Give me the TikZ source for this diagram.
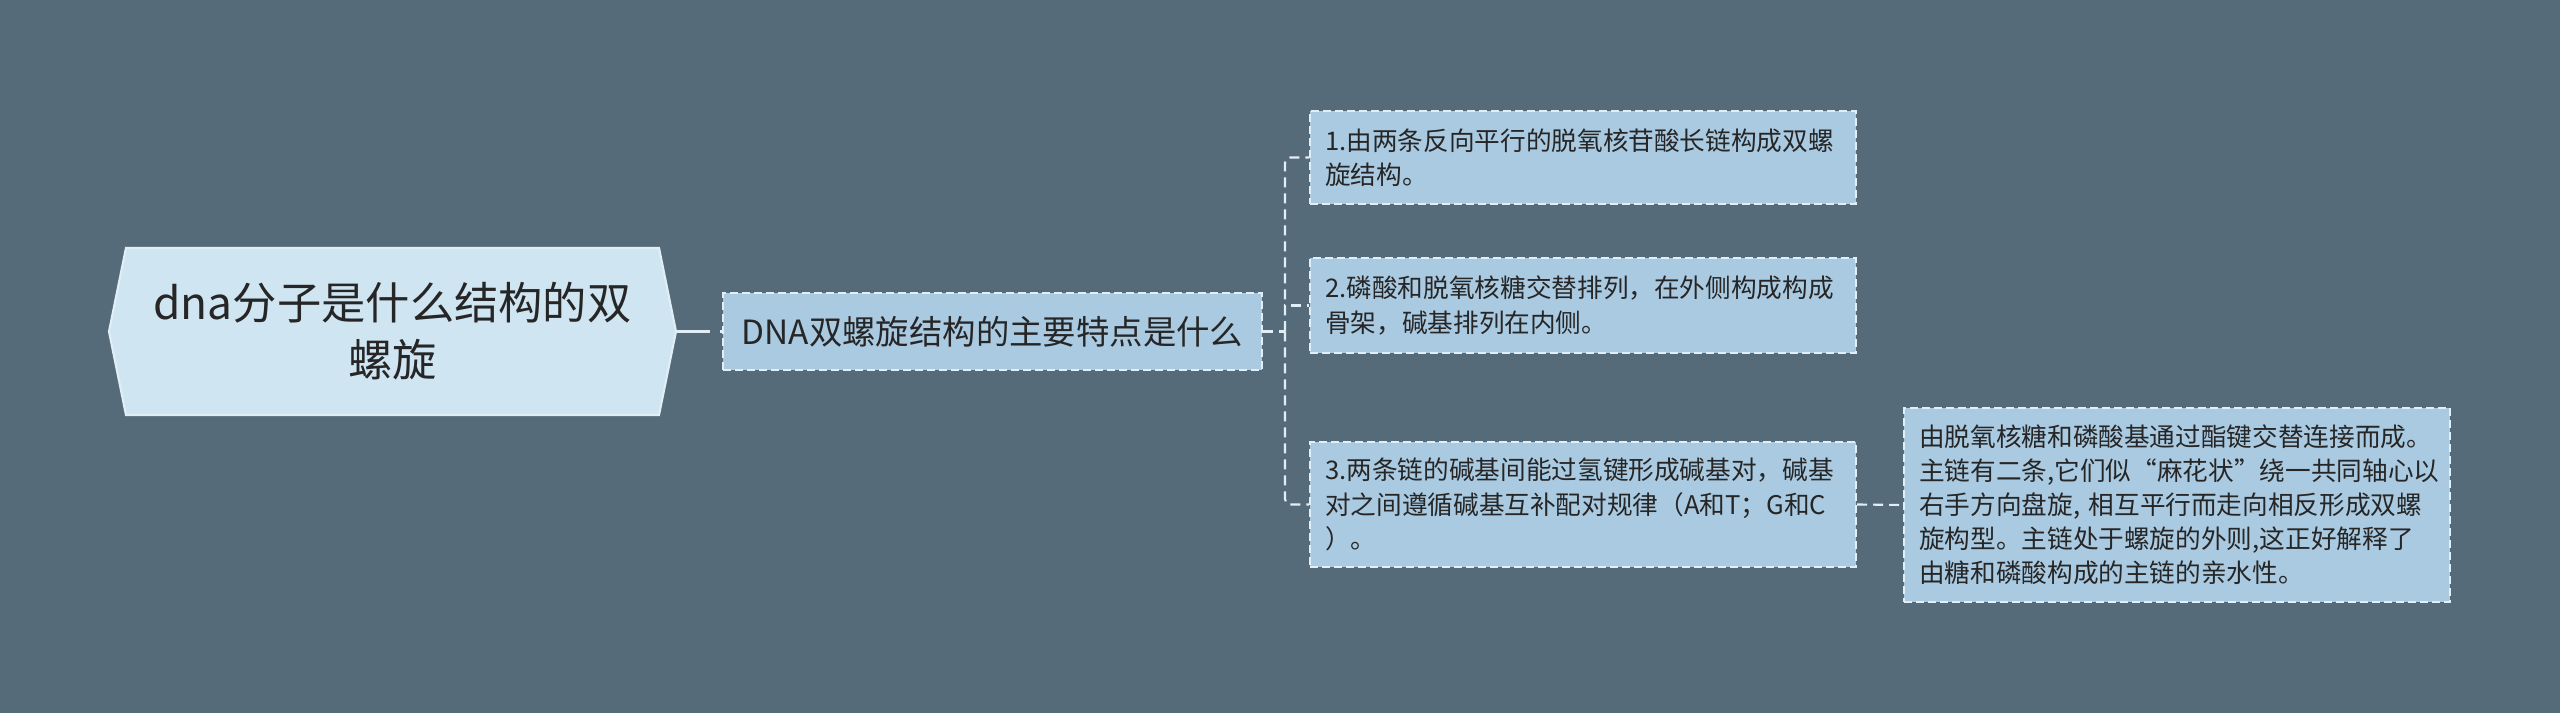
\documentclass[tikz,border=0pt]{standalone}
\usepackage{fontspec}
\usepackage{tikz}
\usetikzlibrary{shapes.symbols}
\newfontfamily\cjk{Noto Sans CJK SC}

\definecolor{bgcol}{HTML}{566B7A}
\definecolor{rootfill}{HTML}{CFE5F2}
\definecolor{leaffill}{HTML}{AACAE1}
\definecolor{linecol}{HTML}{E2EEF6}
\definecolor{txtcol}{HTML}{262626}

\tikzset{
  rootbox/.style={shape=signal, signal to=west and east, signal pointer angle=157,
    fill=rootfill, draw=linecol, line width=0.6pt, text=txtcol, align=center,
    minimum width=5.67cm, minimum height=1.67cm, inner sep=0pt,
    font=\cjk\fontsize{12.6}{16.2}\selectfont},
  subbox/.style={draw=linecol, dash pattern=on 0.8mm off 0.4mm, line width=0.6pt,
    fill=leaffill, text=txtcol, minimum width=5.39cm, minimum height=0.77cm,
    inner sep=0pt, font=\cjk\fontsize{9.5}{12}\selectfont},
  leafbox/.style={draw=linecol, dash pattern=on 0.8mm off 0.4mm, line width=0.6pt,
    fill=leaffill, text=txtcol, align=left, text width=5.16cm, inner xsep=0.15cm,
    inner ysep=0pt, anchor=west, font=\cjk\fontsize{7.3}{9.7}\selectfont},
  link/.style={draw=linecol, line width=0.6pt, dash pattern=on 1mm off 0.6mm},
}

\begin{document}
\begin{tikzpicture}
% Background
\fill[bgcol] (0,0) rectangle (25.6,7.13);
\useasboundingbox (0,0) rectangle (25.6,7.13);

% Root and main topic
\node[rootbox] (root) at (3.925,3.815) {dna分子是什么结构的双\\螺旋};
\node[subbox] (sub) at (9.925,3.815) {DNA双螺旋结构的主要特点是什么};

% Features
\node[leafbox, minimum height=0.93cm] (leaf1) at (13.09,5.555)
  {1.由两条反向平行的脱氧核苷酸长链构成双螺\\旋结构。};
\node[leafbox, minimum height=0.95cm] (leaf2) at (13.09,4.075)
  {2.磷酸和脱氧核糖交替排列，在外侧构成构成\\骨架，碱基排列在内侧。};
\node[leafbox, minimum height=1.25cm] (leaf3) at (13.09,2.085)
  {3.两条链的碱基间能过氢键形成碱基对，碱基\\对之间遵循碱基互补配对规律（A和T；G和C\\）。};
\node[leafbox, minimum height=1.94cm] (leaf4) at (19.03,2.08)
  {由脱氧核糖和磷酸基通过酯键交替连接而成。\\主链有二条,它们似“麻花状”绕一共同轴心以\\右手方向盘旋, 相互平行而走向相反形成双螺\\旋构型。主链处于螺旋的外则,这正好解释了\\由糖和磷酸构成的主链的亲水性。};

% Connectors
\coordinate (fork) at (12.85,3.815);
\draw[draw=linecol, line width=0.6pt, dash pattern=on 3.3mm off 1mm on 1mm] (root.east) -- (sub.west);
\draw[link] (sub.east) -- (fork);
\draw[link, rounded corners=1.5pt] (fork) |- (leaf1.west);
\draw[link] (fork) |- (leaf2.west);
\draw[link, rounded corners=1.5pt] (fork) |- (leaf3.west);
\draw[link] (leaf3.east) -- (leaf4.west);
\end{tikzpicture}
\end{document}
